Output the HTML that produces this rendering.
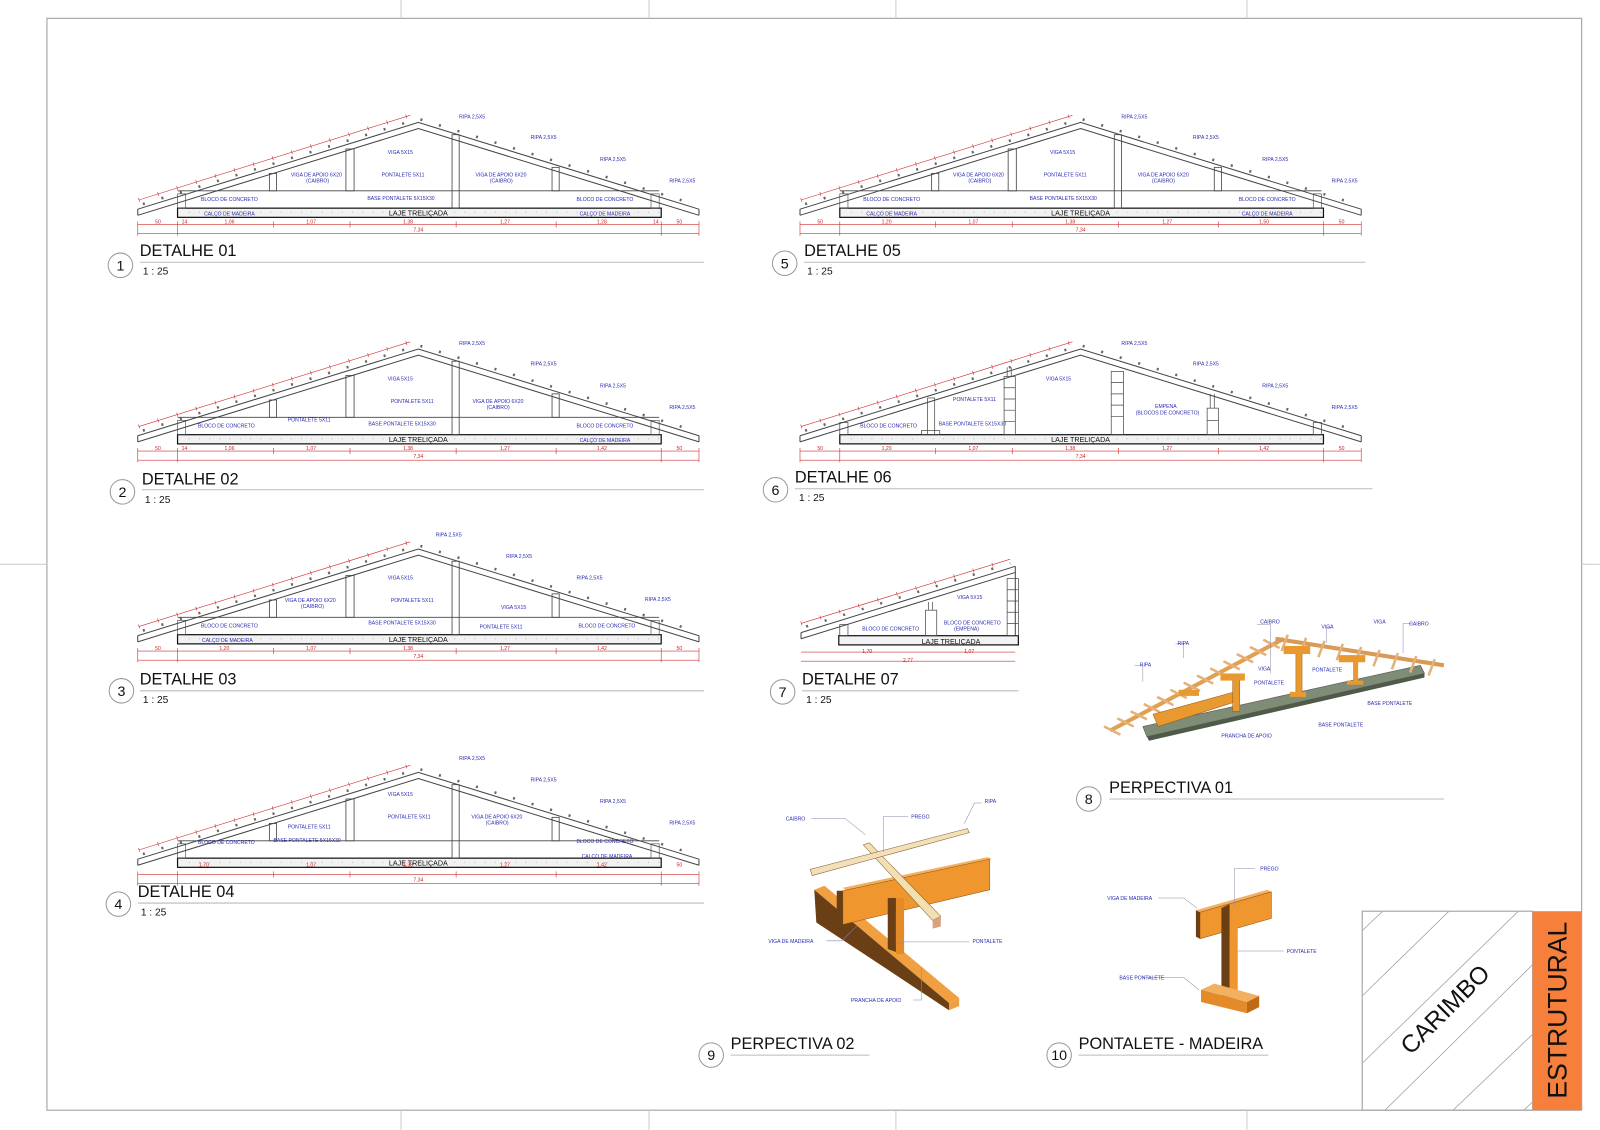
<!DOCTYPE html>
<html><head><meta charset="utf-8"><style>
html,body{margin:0;padding:0;background:#fff}
svg{display:block}
.b{font-family:"Liberation Sans",sans-serif;font-size:5px;fill:#2b2bb0}
.r{font-family:"Liberation Sans",sans-serif;font-size:5px;fill:#d02020}
.t{font-family:"Liberation Sans",sans-serif;font-size:16px;fill:#111}
.s{font-family:"Liberation Sans",sans-serif;font-size:10px;fill:#111}
.n{font-family:"Liberation Sans",sans-serif;font-size:14px;fill:#111}
.lj{font-family:"Liberation Sans",sans-serif;font-size:7px;fill:#111}
</style></head><body>
<svg width="1600" height="1130" viewBox="0 0 1600 1130" xmlns="http://www.w3.org/2000/svg">
<defs>
<g id="truss">
 <path d="M-275,85 L0,0 L275,85 M-275,91 L0,6 L275,91 M-275,85 V91 M275,85 V91" fill="none" stroke="#444" stroke-width="1"/>
 <path d="M-270,80 L-2,-3 M2,-3 L270,80" fill="none" stroke="#666" stroke-width="2.5" stroke-dasharray="2 17"/>
 <path d="M-274,76 L-8,-7" stroke="#d03030" stroke-width="0.6"/>
 <path d="M-274,76 L-8,-7" stroke="#d03030" stroke-width="4" stroke-dasharray="0.6 19"/>
 <rect x="-236" y="84" width="474" height="9" fill="#f2f2f2" stroke="#111" stroke-width="1.2"/>
 <path d="M-225,88 h470" stroke="#999" stroke-width="0.6" stroke-dasharray="1 9"/>
 <path d="M-275,100 H275 M-275,109 H275" stroke="#d03030" stroke-width="0.6"/>
 <path d="M-236,97 v14 M-142,97 v6 M-67,97 v6 M37,97 v6 M135,97 v6 M238,97 v14 M-275,97 v14 M275,97 v14" stroke="#d03030" stroke-width="0.6"/>
 <text x="0" y="107" class="r" text-anchor="middle">7,34</text>
</g>
<g id="posts">
 <path d="M-236,67 H236" stroke="#444" stroke-width="0.8"/>
 <rect x="-146" y="50" width="7" height="17" fill="none" stroke="#444" stroke-width="0.8"/>
 <rect x="-71" y="26" width="8" height="41" fill="none" stroke="#444" stroke-width="0.8"/>
 <rect x="33" y="12" width="7" height="72" fill="none" stroke="#444" stroke-width="0.8"/>
 <rect x="131" y="44" width="7" height="23" fill="none" stroke="#444" stroke-width="0.8"/>
 <rect x="-236" y="70" width="8" height="14" fill="none" stroke="#444" stroke-width="0.6"/>
 <rect x="228" y="70" width="8" height="14" fill="none" stroke="#444" stroke-width="0.6"/>
</g>
</defs>
<g transform="scale(1.0204)">
<rect x="46" y="18" width="1504" height="1070" fill="none" stroke="#aaa" stroke-width="1.2"/>
<path d="M393,0 V18 M636,0 V18 M878,0 V18 M1222,0 V18 M393,1088 V1107 M636,1088 V1107 M878,1088 V1107 M1222,1088 V1107 M0,553 H46 M1550,553 H1568" stroke="#ccc" stroke-width="1"/>

<g transform="translate(410,120)">
 <use href="#truss"/><use href="#posts"/>
 <text x="0" y="91" class="lj" text-anchor="middle">LAJE TRELIÇADA</text>
 <text x="40" y="-4" class="b">RIPA 2,5X5</text><text x="110" y="16" class="b">RIPA 2,5X5</text>
 <text x="178" y="38" class="b">RIPA 2,5X5</text><text x="246" y="59" class="b">RIPA 2,5X5</text>
 <text x="-30" y="31" class="b">VIGA 5X15</text><text x="-36" y="53" class="b">PONTALETE 5X11</text>
 <text x="-125" y="53" class="b">VIGA DE APOIO 6X20</text><text x="-110" y="59" class="b">(CAIBRO)</text>
 <text x="56" y="53" class="b">VIGA DE APOIO 6X20</text><text x="70" y="59" class="b">(CAIBRO)</text>
 <text x="-50" y="76" class="b">BASE PONTALETE 5X15X30</text>
 <text x="-213" y="77" class="b">BLOCO DE CONCRETO</text><text x="155" y="77" class="b">BLOCO DE CONCRETO</text>
 <text x="-210" y="91" class="b">CALÇO DE MADEIRA</text><text x="158" y="91" class="b">CALÇO DE MADEIRA</text>
 <text x="-258" y="99" class="r">50</text><text x="-232" y="99" class="r">14</text><text x="-190" y="99" class="r">1,06</text><text x="-110" y="99" class="r">1,07</text><text x="-15" y="99" class="r">1,38</text><text x="80" y="99" class="r">1,27</text><text x="175" y="99" class="r">1,28</text><text x="230" y="99" class="r">14</text><text x="253" y="99" class="r">50</text>
</g>
<circle cx="118" cy="260" r="12" fill="none" stroke="#999"/><text x="118" y="265" class="n" text-anchor="middle">1</text>
<text x="137" y="251" class="t">DETALHE 01</text><path d="M137,257 H690" stroke="#bbb"/><text x="140" y="269" class="s">1 : 25</text>

<g transform="translate(410,342)">
 <use href="#truss"/><use href="#posts"/>
 <text x="0" y="91" class="lj" text-anchor="middle">LAJE TRELIÇADA</text>
 <text x="40" y="-4" class="b">RIPA 2,5X5</text><text x="110" y="16" class="b">RIPA 2,5X5</text>
 <text x="178" y="38" class="b">RIPA 2,5X5</text><text x="246" y="59" class="b">RIPA 2,5X5</text>
 <text x="-30" y="31" class="b">VIGA 5X15</text><text x="-27" y="53" class="b">PONTALETE 5X11</text><text x="-128" y="71" class="b">PONTALETE 5X11</text>
 <text x="53" y="53" class="b">VIGA DE APOIO 6X20</text><text x="67" y="59" class="b">(CAIBRO)</text>
 <text x="-49" y="75" class="b">BASE PONTALETE 5X15X30</text>
 <text x="-216" y="77" class="b">BLOCO DE CONCRETO</text><text x="155" y="77" class="b">BLOCO DE CONCRETO</text>
 <text x="158" y="91" class="b">CALÇO DE MADEIRA</text>
 <text x="-258" y="99" class="r">50</text><text x="-232" y="99" class="r">14</text><text x="-190" y="99" class="r">1,06</text><text x="-110" y="99" class="r">1,07</text><text x="-15" y="99" class="r">1,38</text><text x="80" y="99" class="r">1,27</text><text x="175" y="99" class="r">1,42</text><text x="253" y="99" class="r">50</text>
</g>
<circle cx="120" cy="482" r="12" fill="none" stroke="#999"/><text x="120" y="487" class="n" text-anchor="middle">2</text>
<text x="139" y="475" class="t">DETALHE 02</text><path d="M139,480 H690" stroke="#bbb"/><text x="142" y="493" class="s">1 : 25</text>

<g transform="translate(410,538)">
 <use href="#truss"/><use href="#posts"/>
 <text x="0" y="91" class="lj" text-anchor="middle">LAJE TRELIÇADA</text>
 <text x="17" y="-12" class="b">RIPA 2,5X5</text><text x="86" y="9" class="b">RIPA 2,5X5</text>
 <text x="155" y="30" class="b">RIPA 2,5X5</text><text x="222" y="51" class="b">RIPA 2,5X5</text>
 <text x="-30" y="30" class="b">VIGA 5X15</text><text x="-27" y="52" class="b">PONTALETE 5X11</text><text x="81" y="59" class="b">VIGA 5X15</text><text x="60" y="78" class="b">PONTALETE 5X11</text>
 <text x="-131" y="52" class="b">VIGA DE APOIO 6X20</text><text x="-115" y="58" class="b">(CAIBRO)</text>
 <text x="-49" y="74" class="b">BASE PONTALETE 5X15X30</text>
 <text x="-213" y="77" class="b">BLOCO DE CONCRETO</text><text x="157" y="77" class="b">BLOCO DE CONCRETO</text>
 <text x="-212" y="91" class="b">CALÇO DE MADEIRA</text>
 <text x="-258" y="99" class="r">50</text><text x="-195" y="99" class="r">1,20</text><text x="-110" y="99" class="r">1,07</text><text x="-15" y="99" class="r">1,38</text><text x="80" y="99" class="r">1,27</text><text x="175" y="99" class="r">1,42</text><text x="253" y="99" class="r">50</text>
</g>
<circle cx="119" cy="677" r="12" fill="none" stroke="#999"/><text x="119" y="682" class="n" text-anchor="middle">3</text>
<text x="137" y="671" class="t">DETALHE 03</text><path d="M137,677 H690" stroke="#bbb"/><text x="140" y="689" class="s">1 : 25</text>

<g transform="translate(410,757)">
 <use href="#truss"/><use href="#posts"/>
 <text x="0" y="91" class="lj" text-anchor="middle">LAJE TRELIÇADA</text>
 <text x="40" y="-12" class="b">RIPA 2,5X5</text><text x="110" y="9" class="b">RIPA 2,5X5</text>
 <text x="178" y="30" class="b">RIPA 2,5X5</text><text x="246" y="51" class="b">RIPA 2,5X5</text>
 <text x="-30" y="23" class="b">VIGA 5X15</text><text x="-30" y="45" class="b">PONTALETE 5X11</text><text x="-128" y="55" class="b">PONTALETE 5X11</text>
 <text x="52" y="45" class="b">VIGA DE APOIO 6X20</text><text x="66" y="51" class="b">(CAIBRO)</text>
 <text x="-142" y="68" class="b">BASE PONTALETE 5X15X30</text>
 <text x="-216" y="70" class="b">BLOCO DE CONCRETO</text><text x="155" y="69" class="b">BLOCO DE CONCRETO</text>
 <text x="160" y="84" class="b">CALÇO DE MADEIRA</text>
 <text x="-215" y="92" class="r">1,70</text><text x="-110" y="92" class="r">1,07</text><text x="-15" y="92" class="r">1,38</text><text x="80" y="92" class="r">1,27</text><text x="175" y="92" class="r">1,42</text><text x="253" y="92" class="r">50</text>
</g>
<circle cx="116" cy="886" r="12" fill="none" stroke="#999"/><text x="116" y="891" class="n" text-anchor="middle">4</text>
<text x="135" y="879" class="t">DETALHE 04</text><path d="M135,885 H690" stroke="#bbb"/><text x="138" y="897" class="s">1 : 25</text>

<g transform="translate(1059,120)">
 <use href="#truss"/><use href="#posts"/>
 <text x="0" y="91" class="lj" text-anchor="middle">LAJE TRELIÇADA</text>
 <text x="40" y="-4" class="b">RIPA 2,5X5</text><text x="110" y="16" class="b">RIPA 2,5X5</text>
 <text x="178" y="38" class="b">RIPA 2,5X5</text><text x="246" y="59" class="b">RIPA 2,5X5</text>
 <text x="-30" y="31" class="b">VIGA 5X15</text><text x="-36" y="53" class="b">PONTALETE 5X11</text>
 <text x="-125" y="53" class="b">VIGA DE APOIO 6X20</text><text x="-110" y="59" class="b">(CAIBRO)</text>
 <text x="56" y="53" class="b">VIGA DE APOIO 6X20</text><text x="70" y="59" class="b">(CAIBRO)</text>
 <text x="-50" y="76" class="b">BASE PONTALETE 5X15X30</text>
 <text x="-213" y="77" class="b">BLOCO DE CONCRETO</text><text x="155" y="77" class="b">BLOCO DE CONCRETO</text>
 <text x="-210" y="91" class="b">CALÇO DE MADEIRA</text><text x="158" y="91" class="b">CALÇO DE MADEIRA</text>
 <text x="-258" y="99" class="r">50</text><text x="-195" y="99" class="r">1,20</text><text x="-110" y="99" class="r">1,07</text><text x="-15" y="99" class="r">1,38</text><text x="80" y="99" class="r">1,27</text><text x="175" y="99" class="r">1,50</text><text x="253" y="99" class="r">50</text>
</g>
<circle cx="769" cy="258" r="12" fill="none" stroke="#999"/><text x="769" y="263" class="n" text-anchor="middle">5</text>
<text x="788" y="251" class="t">DETALHE 05</text><path d="M788,257 H1338" stroke="#bbb"/><text x="791" y="269" class="s">1 : 25</text>

<g transform="translate(1059,342)">
 <use href="#truss"/>
 <g fill="none" stroke="#444" stroke-width="0.7">
  <rect x="-150" y="48" width="7" height="36"/><rect x="-156" y="80" width="18" height="4"/>
  <path d="M-72,18 v9 M-68,18 v9"/><rect x="-75" y="27" width="11" height="57"/><path d="M-75,38 h11 M-75,49 h11 M-75,60 h11 M-75,71 h11"/>
  <rect x="30" y="22" width="12" height="62"/><path d="M30,33 h12 M30,44 h12 M30,55 h12 M30,66 h12"/>
  <path d="M127,44 v14 M131,44 v14"/><rect x="124" y="58" width="11" height="26"/><path d="M124,70 h11"/>
  <rect x="-236" y="72" width="8" height="12"/><rect x="228" y="72" width="8" height="12"/>
 </g>
 <text x="0" y="91" class="lj" text-anchor="middle">LAJE TRELIÇADA</text>
 <text x="40" y="-4" class="b">RIPA 2,5X5</text><text x="110" y="16" class="b">RIPA 2,5X5</text>
 <text x="178" y="38" class="b">RIPA 2,5X5</text><text x="246" y="59" class="b">RIPA 2,5X5</text>
 <text x="-34" y="31" class="b">VIGA 5X15</text><text x="-125" y="51" class="b">PONTALETE 5X11</text>
 <text x="73" y="58" class="b">EMPENA</text><text x="54" y="64" class="b">(BLOCOS DE CONCRETO)</text>
 <text x="-139" y="75" class="b">BASE PONTALETE 5X15X30</text>
 <text x="-216" y="77" class="b">BLOCO DE CONCRETO</text>
 <text x="-258" y="99" class="r">50</text><text x="-195" y="99" class="r">1,20</text><text x="-110" y="99" class="r">1,07</text><text x="-15" y="99" class="r">1,38</text><text x="80" y="99" class="r">1,27</text><text x="175" y="99" class="r">1,42</text><text x="253" y="99" class="r">50</text>
</g>
<circle cx="760" cy="480" r="12" fill="none" stroke="#999"/><text x="760" y="485" class="n" text-anchor="middle">6</text>
<text x="779" y="473" class="t">DETALHE 06</text><path d="M779,479 H1345" stroke="#bbb"/><text x="783" y="491" class="s">1 : 25</text>

<g>
 <path d="M785,620 L995,555 M785,626 L995,561 M785,620 v6 M995,555 V626" fill="none" stroke="#444"/>
 <path d="M790,614 L990,552" stroke="#666" stroke-width="2.5" stroke-dasharray="2 17"/>
 <path d="M785,611 L990,548" stroke="#d03030" stroke-width="0.6"/>
 <path d="M785,611 L990,548" stroke="#d03030" stroke-width="4" stroke-dasharray="0.6 19"/>
 <rect x="822" y="623" width="176" height="9" fill="#f2f2f2" stroke="#111" stroke-width="1.2"/>
 <text x="932" y="631" class="lj" text-anchor="middle">LAJE TRELIÇADA</text>
 <g fill="none" stroke="#444" stroke-width="0.7"><rect x="823" y="612" width="8" height="11"/><rect x="907" y="598" width="11" height="25"/><path d="M910,590 v8 M914,590 v8"/><rect x="987" y="567" width="11" height="56"/><path d="M987,578h11M987,589h11M987,600h11M987,611h11"/></g>
 <text x="938" y="587" class="b">VIGA 5X15</text><text x="845" y="618" class="b">BLOCO DE CONCRETO</text>
 <text x="925" y="612" class="b">BLOCO DE CONCRETO</text><text x="935" y="618" class="b">(EMPENA)</text>
 <path d="M785,639 H995 M785,648 H995" stroke="#d03030" stroke-width="0.6"/>
 <text x="845" y="640" class="r">1,70</text><text x="945" y="640" class="r">1,07</text><text x="885" y="649" class="r">2,77</text>
</g>
<circle cx="767" cy="678" r="12" fill="none" stroke="#999"/><text x="767" y="683" class="n" text-anchor="middle">7</text>
<text x="786" y="671" class="t">DETALHE 07</text><path d="M786,677 H998" stroke="#bbb"/><text x="790" y="689" class="s">1 : 25</text>

<g>
 <polygon points="1120,712 1392,652 1396,660 1124,722" fill="#7f8c76" stroke="#555" stroke-width="0.6"/>
 <polygon points="1124,722 1396,660 1396,664 1126,726" fill="#4f5a48"/>
 <path d="M1088,716 L1258,626" stroke="#e0a050" stroke-width="4"/>
 <path d="M1250,626 L1415,652" stroke="#d89a55" stroke-width="4"/>
 <g stroke="#e3b27a" stroke-width="2.5">
  <path d="M1082,712 l16,8 M1095,704 l16,8 M1108,697 l16,8 M1121,690 l16,8 M1134,683 l16,8 M1147,676 l16,8 M1160,669 l16,8 M1173,662 l16,8 M1186,655 l16,8 M1199,648 l16,8 M1212,641 l16,8 M1225,634 l16,8 M1238,627 l16,8"/>
  <path d="M1262,622 l-6,16 M1280,625 l-6,16 M1298,628 l-6,16 M1316,631 l-6,16 M1334,634 l-6,16 M1352,637 l-6,16 M1370,640 l-6,16 M1388,643 l-6,16 M1406,646 l-6,16"/>
 </g>
 <polygon points="1130,700 1210,678 1210,688 1135,712" fill="#e89a30" stroke="#9a5a10" stroke-width="0.5"/>
 <rect x="1208" y="665" width="7" height="32" fill="#e89a30" stroke="#9a5a10" stroke-width="0.5"/>
 <rect x="1196" y="660" width="24" height="7" fill="#e89a30"/>
 <rect x="1155" y="676" width="20" height="6" fill="#e89a30"/>
 <rect x="1270" y="640" width="6" height="42" fill="#e89a30" stroke="#9a5a10" stroke-width="0.5"/>
 <rect x="1258" y="633" width="26" height="8" fill="#e89a30"/><rect x="1264" y="678" width="16" height="5" fill="#e89a30"/>
 <rect x="1326" y="648" width="5" height="22" fill="#e89a30"/><rect x="1312" y="642" width="26" height="7" fill="#e89a30"/><rect x="1320" y="667" width="16" height="4" fill="#e89a30"/>
 <g fill="none" stroke="#8888aa" stroke-width="0.5"><path d="M1232,612 H1245 V660 M1112,652 H1120 V668 M1152,631 H1160 V645 M1304,615 H1300 V630 M1385,611 H1375 V640"/></g>
 <text x="1235" y="611" class="b">CAIBRO</text><text x="1295" y="616" class="b">VIGA</text><text x="1346" y="611" class="b">VIGA</text><text x="1381" y="613" class="b">CAIBRO</text>
 <text x="1154" y="632" class="b">RIPA</text><text x="1117" y="653" class="b">RIPA</text>
 <text x="1233" y="657" class="b">VIGA</text><text x="1229" y="671" class="b">PONTALETE</text><text x="1286" y="658" class="b">PONTALETE</text>
 <text x="1340" y="691" class="b">BASE PONTALETE</text><text x="1292" y="712" class="b">BASE PONTALETE</text><text x="1197" y="723" class="b">PRANCHA DE APOIO</text>
</g>
<circle cx="1067" cy="783" r="12" fill="none" stroke="#999"/><text x="1067" y="788" class="n" text-anchor="middle">8</text>
<text x="1087" y="777" class="t">PERPECTIVA 01</text><path d="M1087,783 H1415" stroke="#bbb"/>

<g>
 <polygon points="798,872 808,868 940,978 930,983" fill="#f0a040"/>
 <polygon points="798,872 930,983 930,990 800,904" fill="#6b3f15"/>
 <polygon points="930,983 940,978 940,986 930,990" fill="#f0a040"/>
 <polygon points="826,870 968,840 972,842 830,873" fill="#f3b060"/>
 <polygon points="826,873 970,842 970,872 826,906" fill="#f0962e" stroke="#8a4f10" stroke-width="0.5"/>
 <polygon points="820,873 826,873 826,906 820,904" fill="#6b3f15"/>
 <polygon points="878,880 886,880 886,935 878,935" fill="#e48a28"/>
 <polygon points="870,880 878,880 878,933 870,930" fill="#6b3f15"/>
 <polygon points="846,828 852,826 922,898 914,902" fill="#f3dfb0" stroke="#7a5a30" stroke-width="0.5"/>
 <polygon points="914,902 922,898 922,908 914,910" fill="#d8a080"/>
 <polygon points="794,852 948,812 950,816 796,858" fill="#f4e0b8" stroke="#7a5a30" stroke-width="0.5"/>
 <g fill="none" stroke="#8888aa" stroke-width="0.5"><path d="M795,802 H828 L848,818 M866,835 V800 H890 M945,807 L955,787 H962 M810,922 H825 L840,907 M887,923 H950 M903,948 V980 H895 M880,925 L887,923"/></g>
 <text x="770" y="804" class="b">CAIBRO</text><text x="893" y="802" class="b">PREGO</text><text x="965" y="787" class="b">RIPA</text>
 <text x="753" y="924" class="b">VIGA DE MADEIRA</text><text x="953" y="924" class="b">PONTALETE</text><text x="834" y="982" class="b">PRANCHA DE APOIO</text>
</g>
<circle cx="697" cy="1034" r="12" fill="none" stroke="#999"/><text x="697" y="1039" class="n" text-anchor="middle">9</text>
<text x="716" y="1028" class="t">PERPECTIVA 02</text><path d="M716,1034 H852" stroke="#bbb"/>

<g>
 <polygon points="1172,892 1242,872 1246,874 1176,894" fill="#f3b060"/>
 <polygon points="1176,894 1246,874 1246,900 1176,920" fill="#f0962e" stroke="#8a4f10" stroke-width="0.5"/>
 <polygon points="1172,892 1176,894 1176,920 1172,918" fill="#6b3f15"/>
 <polygon points="1205,886 1213,884 1213,982 1205,984" fill="#f0962e"/>
 <polygon points="1197,890 1205,886 1205,984 1197,980" fill="#6b3f15"/>
 <polygon points="1177,970 1190,964 1234,976 1222,982" fill="#f3b060"/>
 <polygon points="1177,970 1222,982 1222,993 1177,982" fill="#e48a28"/>
 <polygon points="1222,982 1234,976 1234,987 1222,993" fill="#c06a18"/>
 <g fill="none" stroke="#8888aa" stroke-width="0.5"><path d="M1135,880 H1160 L1173,890 M1210,888 V851 H1230 M1213,932 H1258 M1120,958 H1160 L1175,970"/></g>
 <text x="1235" y="853" class="b">PREGO</text><text x="1085" y="882" class="b">VIGA DE MADEIRA</text><text x="1261" y="934" class="b">PONTALETE</text><text x="1097" y="960" class="b">BASE PONTALETE</text>
</g>
<circle cx="1038" cy="1034" r="12" fill="none" stroke="#999"/><text x="1038" y="1039" class="n" text-anchor="middle">10</text>
<text x="1057" y="1028" class="t">PONTALETE - MADEIRA</text><path d="M1057,1034 H1243" stroke="#bbb"/>

<clipPath id="cc"><rect x="1335" y="893" width="167" height="195"/></clipPath>
<g clip-path="url(#cc)" stroke="#999" stroke-width="0.7">
 <path d="M1335,912 L1355,893 M1335,976 L1420,893 M1335,1042 L1488,893 M1335,1110 L1555,893 M1380,1130 L1600,920 M1450,1130 L1600,985"/>
</g>
<rect x="1335" y="893" width="167" height="195" fill="none" stroke="#aaa" stroke-width="1.2"/>
<rect x="1502" y="893" width="48" height="195" fill="#f57f3b"/>
<text x="1422" y="995" font-family="Liberation Sans,sans-serif" font-size="24" fill="#111" text-anchor="middle" transform="rotate(-45 1422 995)">CARIMBO</text>
<text x="1535" y="990" font-family="Liberation Sans,sans-serif" font-size="26" fill="#111" text-anchor="middle" transform="rotate(-90 1535 990)">ESTRUTURAL</text>
</g>
</svg>
</body></html>
